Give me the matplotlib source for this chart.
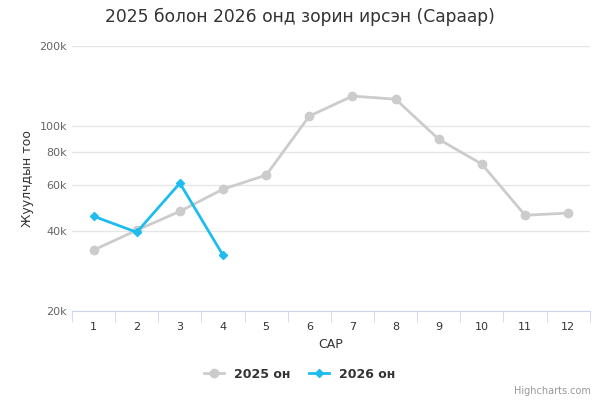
import matplotlib
matplotlib.use("Agg")
import matplotlib.pyplot as plt
from matplotlib.ticker import FixedLocator, NullLocator

months = ["1","2","3","4","5","6","7","8","9","10","11","12"]
v2025 = [34000, 40400, 47600, 57700, 65200, 108800, 129500, 126000, 89000, 71700, 46000, 46900]
v2026 = [45600, 39700, 60800, 32500]
yticks = [20000, 40000, 60000, 80000, 100000, 200000]
ylabels = ["20k", "40k", "60k", "80k", "100k", "200k"]

fig = plt.figure(figsize=(6, 4), dpi=100)
ax = fig.add_axes([0.12, 0.222, 0.863, 0.663])
x = list(range(len(months)))
ax.plot(x, v2025, color="#cccccc", lw=2, marker="o", ms=6, zorder=2)
ax.plot(x[:len(v2026)], v2026, color="#1fbcf0", lw=2, marker="D", ms=4.5, zorder=3)
ax.set_yscale("log")
ax.set_ylim(20000, 200000)
ax.yaxis.set_major_locator(FixedLocator(yticks))
ax.yaxis.set_minor_locator(NullLocator())
ax.set_yticks(yticks, ylabels)
ax.set_xlim(-0.5, 11.5)
ax.set_xticks(x, months)
ax.set_xticks([i - 0.5 for i in range(13)], minor=True)
ax.tick_params(axis="x", which="major", length=0, labelsize=8, colors="#333333", pad=8)
ax.tick_params(axis="x", which="minor", length=8, color="#ccd6eb")
ax.tick_params(axis="y", length=0, labelsize=8, colors="#666666")
ax.grid(axis="y", color="#e6e6e6", lw=1)
for s in ["top", "right", "left"]:
    ax.spines[s].set_visible(False)
ax.spines["bottom"].set_color("#ccd6eb")
ax.set_xlabel("САР", fontsize=9, color="#333333")
ax.set_ylabel("Жуулчдын тоо", fontsize=9, color="#333333")
fig.text(0.5, 0.945, "2025 болон 2026 онд зорин ирсэн (Сараар)", ha="center", fontsize=12.3, color="#333333")
from matplotlib.lines import Line2D
h = [Line2D([], [], color="#cccccc", lw=2, marker="o", ms=6),
     Line2D([], [], color="#1fbcf0", lw=2, marker="D", ms=4.5)]
fig.legend(h, ["2025 он", "2026 он"], loc="center", bbox_to_anchor=(0.5, 0.065), ncol=2,
           frameon=False, prop={"weight": "bold", "size": 9}, labelcolor="#333333",
           handlelength=1.6, columnspacing=1.5)
fig.text(0.985, 0.015, "Highcharts.com", ha="right", fontsize=7, color="#999999")
fig.savefig("out.png")
